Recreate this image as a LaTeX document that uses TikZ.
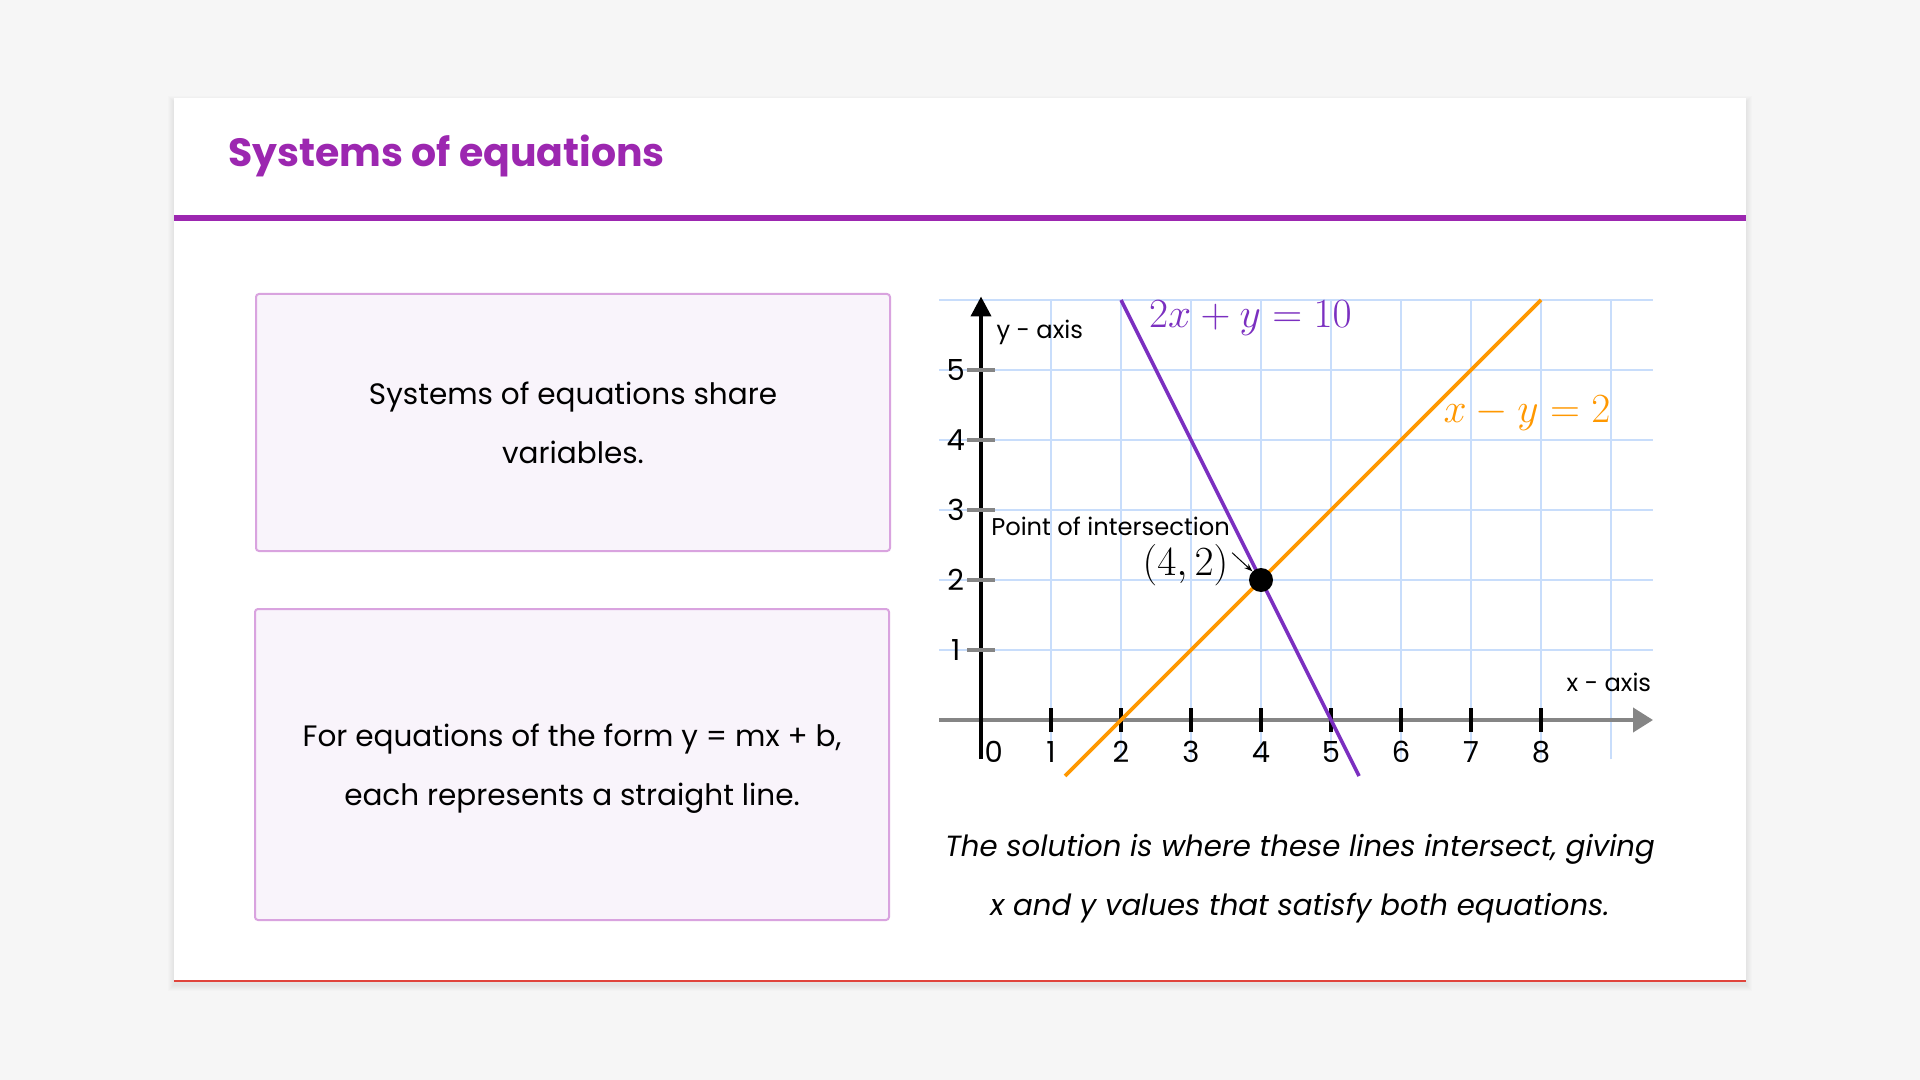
\documentclass[tikz,border=0pt]{standalone}
\usepackage[no-math]{fontspec}
\setmainfont{Poppins}
\usepackage{xcolor}
\usetikzlibrary{arrows.meta,positioning,calc}

\definecolor{pagegray}{HTML}{F6F6F6}
\definecolor{titlepurple}{HTML}{9C27B0}
\definecolor{cardred}{HTML}{E0443C}
\definecolor{boxborder}{HTML}{D9A3DF}
\definecolor{boxfill}{HTML}{F9F4FB}
\definecolor{gridblue}{HTML}{C8DDFB}
\definecolor{axisgray}{HTML}{858585}
\definecolor{linepurple}{HTML}{7B2FC0}
\definecolor{lineorange}{HTML}{FF9800}

\begin{document}
\begin{tikzpicture}[x=0.5pt, y=-0.5pt,
  infobox/.style={draw=boxborder, line width=1pt, fill=boxfill, rounded corners=1.5pt,
    minimum width=317pt, inner sep=0pt, align=center, font=\fontsize{14.75}{29.5}\selectfont},
  ticklabel/.style={font=\fontsize{14.5}{16}\selectfont},
  smalllabel/.style={font=\fontsize{12.1}{14}\selectfont},
  eqlabel/.style={font=\fontsize{20}{22}\selectfont}]

% Page and card
\useasboundingbox (0,0) rectangle (1920,1080);
\fill[pagegray] (0,0) rectangle (1920,1080);
\foreach \s in {1,...,6}
    \fill[black, opacity=0.012] (174-\s,98-\s+4) rectangle (1746+\s,981+\s+4);
\fill[white] (174,98) rectangle (1746,981);
\draw[cardred, line width=1pt] (174,980.5) -- (1746,980.5);

% Title
\node[anchor=base west, text=titlepurple, font=\fontsize{19.7}{22}\selectfont\bfseries] (title) at (221,167) {Systems of equations};
\draw[titlepurple, line width=2.6pt] (174,218) -- (1746,218);

% Text boxes
\node[infobox, minimum height=128.5pt] (shareBox) at (573,422.5) {Systems of equations share\\variables.};
\node[infobox, minimum height=155.5pt, text height=0pt] (lineBox) at (572,764.5) {};
\node[align=center, font=\fontsize{14.75}{29.5}\selectfont] (lineText) at (572,768.5) {For equations of the form y = mx + b,\\each represents a straight line.};

% Graph
\begin{scope}[shift={(490.5pt,-360pt)}, x=35pt, y=35pt]
\foreach \x in {1,...,9}
    \draw[gridblue, line width=1.2pt] (\x,-0.56) -- (\x,6);
\foreach \y in {1,...,6}
    \draw[gridblue, line width=1.2pt] (-0.6,\y) -- (9.6,\y);

% Axes
\draw[axisgray, line width=2pt, -{Triangle[length=10pt, width=12pt]}] (-0.6,0) -- (9.6,0);
\draw[black, line width=2pt, -{Triangle[length=10pt, width=10pt]}] (0,-0.56) -- (0,6.05);

\foreach \x in {1,...,8} {
    \draw[black, line width=2pt] (\x,-0.17) -- (\x,0.17);
    \node[ticklabel] at (\x,-0.46) {\x};
}
\node[ticklabel] at (0.18,-0.46) {0};
\foreach \y in {1,...,5} {
    \draw[axisgray, line width=2pt] (-0.2,\y) -- (0.2,\y);
    \node[ticklabel] at (-0.36,\y) {\y};
}
\node[smalllabel] (yname) at (0.84,5.54) {y - axis};
\node[smalllabel] (xname) at (8.97,0.54) {x - axis};

% Lines
\draw[linepurple, line width=1.8pt] (2,6) -- (5.4,-0.8);
\draw[lineorange, line width=1.8pt] (1.2,-0.8) -- (8,6);
\node[eqlabel, text=linepurple] (eqA) at (3.85,5.74) {$2x + y = 10$};
\node[eqlabel, text=lineorange] (eqB) at (7.8,4.39) {$x - y = 2$};

% Intersection
\node[circle, fill=black, minimum size=12pt, inner sep=0pt] (meet) at (4,2) {};
\node[smalllabel, inner sep=0.5pt] (meetName) at (1.85,2.77) {Point of intersection};
\node[eqlabel, inner sep=0pt] (pairLabel) at (2.92,2.21) {$(4,2)$};
\draw[-{Stealth[length=4pt, width=3pt]}, line width=0.5pt] ($(pairLabel.east)+(0.05,0.18)$) -- (meet.north west);
\end{scope}

% Caption
\node[align=center, font=\fontsize{14.6}{29.5}\selectfont\itshape] (caption) at (1300,879) {The solution is where these lines intersect, giving\\x and y values that satisfy both equations.};

\end{tikzpicture}
\end{document}
